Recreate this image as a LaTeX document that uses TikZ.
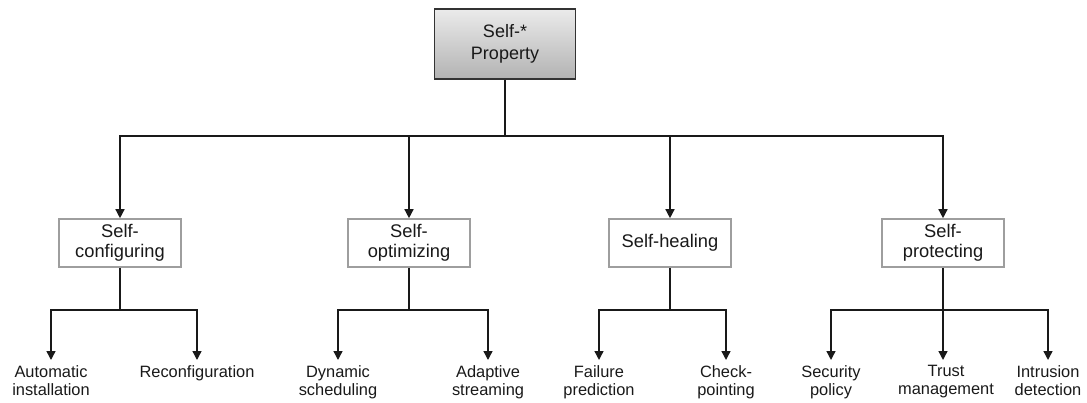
\documentclass[tikz,border=0pt]{standalone}
\usepackage{fontspec}
\setmainfont{Liberation Sans}
\usetikzlibrary{arrows.meta}
\begin{document}
\begin{tikzpicture}[x=1pt,y=-1pt,
  every node/.style={text=black!90},
  rootbox/.style={draw=black!80, line width=1.2pt, top color=black!8, bottom color=black!30,
    minimum width=141pt, minimum height=70pt, inner sep=0pt, align=center,
    font=\fontsize{18}{22}\selectfont},
  catbox/.style={draw=black!38, line width=1.6pt, fill=white,
    minimum width=122pt, minimum height=48pt, inner sep=0pt, align=center,
    font=\fontsize{18.3}{19.5}\selectfont},
  leaf/.style={anchor=north, inner xsep=0pt, inner ysep=5pt, align=center,
    font=\fontsize{16.4}{18}\selectfont},
  link/.style={draw=black!90, line width=1.4pt},
  arr/.style={link, -{Triangle[width=9pt,length=9pt]}},
]
\useasboundingbox (0,0) rectangle (1087,403);

% root and the four categories
\node[rootbox] (root) at (505,44) {Self-*\\Property};
\node[catbox] (sc) at (120,243) {Self-\\configuring};
\node[catbox] (so) at (409,243) {Self-\\optimizing};
\node[catbox] (sh) at (670,243) {Self-healing};
\node[catbox] (sp) at (943,243) {Self-\\protecting};

% leaves
\node[leaf] (ai)  at (51,360)   {Automatic\\installation};
\node[leaf] (rc)  at (197,360)  {Reconfiguration};
\node[leaf] (ds)  at (338,360)  {Dynamic\\scheduling};
\node[leaf] (ad)  at (488,360)  {Adaptive\\streaming};
\node[leaf] (fp)  at (599,360)  {Failure\\prediction};
\node[leaf] (cp)  at (726,360)  {Check-\\pointing};
\node[leaf] (spo) at (831,360)  {Security\\policy};
\node[leaf] (tm)  at (946,360)  {Trust\\management};
\node[leaf] (id)  at (1048,360) {Intrusion\\detection};

% root to categories
\coordinate (bus) at (0,136);
\draw[link] (root.south) -- (root.south |- bus);
\draw[arr] (sc.north |- bus) -- (sc.north);
\draw[arr] (so.north |- bus) -- (so.north);
\draw[arr] (sh.north |- bus) -- (sh.north);
\draw[arr] (sp.north |- bus) -- (sp.north);
\draw[link, line cap=rect] (sc.north |- bus) -- (sp.north |- bus);

% categories to leaves
\coordinate (lbus) at (0,310);
\draw[link] (sc.south) -- (sc.south |- lbus);
\draw[arr] (ai.north |- lbus) -- (ai.north);
\draw[arr] (rc.north |- lbus) -- (rc.north);
\draw[link, line cap=rect] (ai.north |- lbus) -- (rc.north |- lbus);

\draw[link] (so.south) -- (so.south |- lbus);
\draw[arr] (ds.north |- lbus) -- (ds.north);
\draw[arr] (ad.north |- lbus) -- (ad.north);
\draw[link, line cap=rect] (ds.north |- lbus) -- (ad.north |- lbus);

\draw[link] (sh.south) -- (sh.south |- lbus);
\draw[arr] (fp.north |- lbus) -- (fp.north);
\draw[arr] (cp.north |- lbus) -- (cp.north);
\draw[link, line cap=rect] (fp.north |- lbus) -- (cp.north |- lbus);

\draw[arr] (sp.south) -- (sp.south |- tm.north);
\draw[arr] (spo.north |- lbus) -- (spo.north);
\draw[arr] (id.north |- lbus) -- (id.north);
\draw[link, line cap=rect] (spo.north |- lbus) -- (id.north |- lbus);
\end{tikzpicture}
\end{document}
